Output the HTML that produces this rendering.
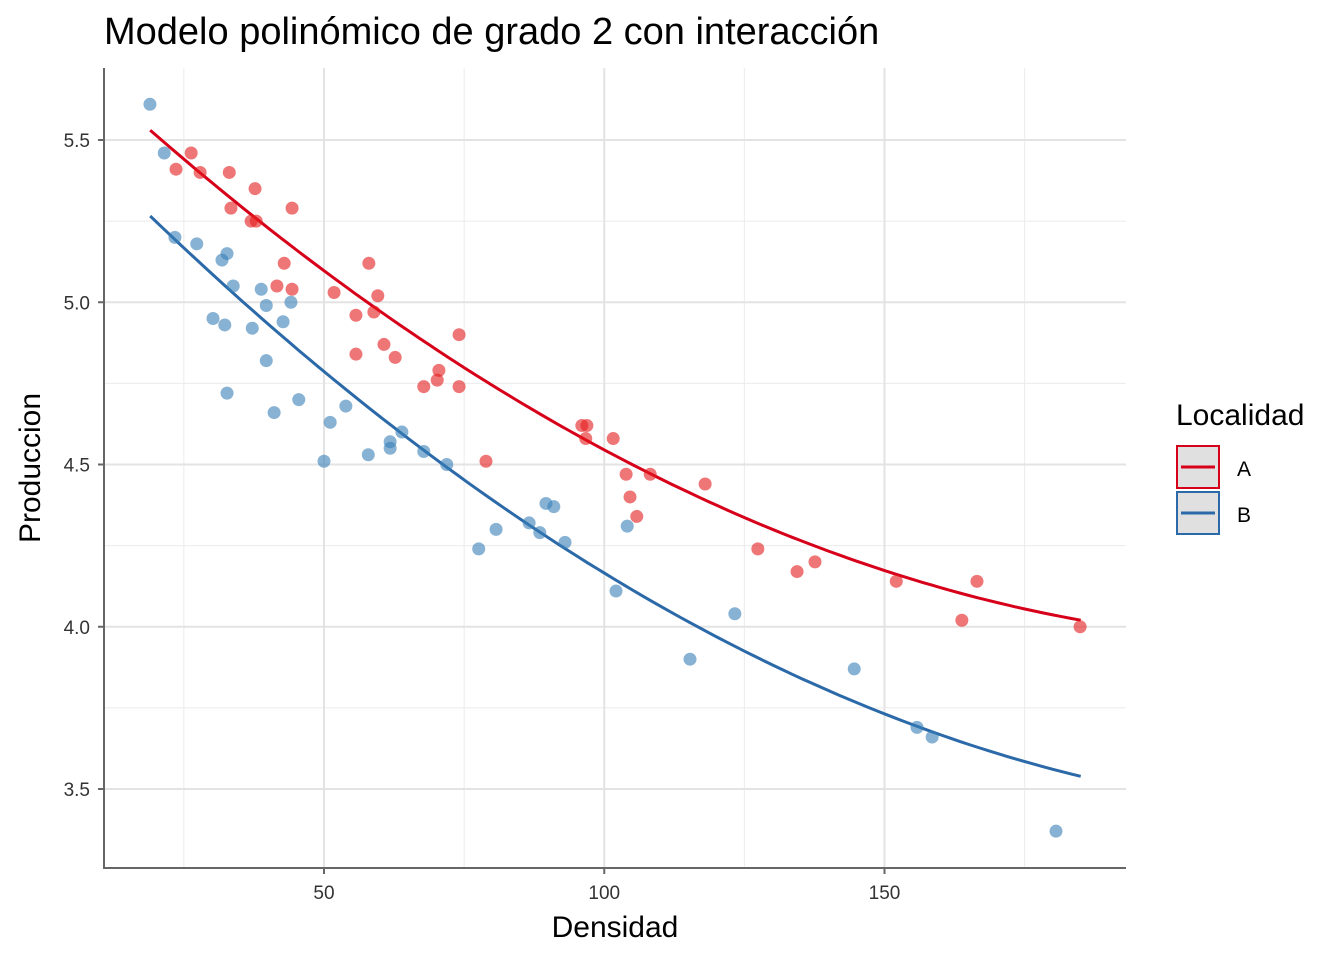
<!DOCTYPE html>
<html><head><meta charset="utf-8"><style>
body{margin:0;background:#fff;}
svg text{font-family:"Liberation Sans",Arial,sans-serif;}
</style></head><body>
<svg id="chart" width="1344" height="960" xmlns="http://www.w3.org/2000/svg">
<rect width="1344" height="960" fill="#fff"/>
<g id="grid"></g><g id="lines"></g><g id="points"></g><g id="axes"></g>
<text x="104" y="44" font-size="38" fill="#000">Modelo polinómico de grado 2 con interacción</text>
<text x="615" y="937" font-size="30" text-anchor="middle">Densidad</text>
<text transform="translate(40,468) rotate(-90)" font-size="30" text-anchor="middle">Produccion</text>
<g>
<text x="1176" y="425" font-size="30">Localidad</text>
<g>
<rect x="1177" y="446" width="42" height="42" fill="#e0e0e0" stroke="#d7001a" stroke-width="2"/>
<line x1="1181" y1="467" x2="1215" y2="467" stroke="#d7001a" stroke-width="3"/>
<text x="1237" y="476" font-size="21">A</text></g>
<g>
<rect x="1177" y="492" width="42" height="42" fill="#e0e0e0" stroke="#2b69a8" stroke-width="2"/>
<line x1="1181" y1="513" x2="1215" y2="513" stroke="#2b69a8" stroke-width="3"/>
<text x="1237" y="522" font-size="21">B</text></g>
</g>
</svg>
<script>
const xA=[23.6,26.3,27.9,33.1,33.4,37.7,37.0,37.9,44.3,42.9,41.6,44.3,51.8,58.0,59.6,58.9,55.7,55.7,60.7,62.7,74.1,70.5,70.2,67.8,74.1,78.9,96.0,96.9,96.7,101.6,103.9,108.2,104.6,105.8,118.0,127.4,134.4,137.6,152.1,166.5,163.8,184.9];
const yA=[5.41,5.46,5.40,5.40,5.29,5.35,5.25,5.25,5.29,5.12,5.05,5.04,5.03,5.12,5.02,4.97,4.96,4.84,4.87,4.83,4.90,4.79,4.76,4.74,4.74,4.51,4.62,4.62,4.58,4.58,4.47,4.47,4.40,4.34,4.44,4.24,4.17,4.20,4.14,4.14,4.02,4.00];
const xB=[18.95,21.5,23.4,27.3,32.7,31.8,33.8,38.8,39.7,44.1,42.7,30.2,32.3,37.2,39.7,32.7,41.1,45.5,53.9,51.1,50.0,57.9,61.8,61.8,63.9,67.8,71.9,77.6,80.7,86.6,88.5,89.6,91.0,93.0,104.1,102.1,123.3,115.3,144.6,155.8,158.5,180.6];
const yB=[5.61,5.46,5.20,5.18,5.15,5.13,5.05,5.04,4.99,5.00,4.94,4.95,4.93,4.92,4.82,4.72,4.66,4.70,4.68,4.63,4.51,4.53,4.57,4.55,4.60,4.54,4.50,4.24,4.30,4.32,4.29,4.38,4.37,4.26,4.31,4.11,4.04,3.90,3.87,3.69,3.66,3.37];
const coefA=[5.8296,-0.01645,3.605e-5];
const coefB=[5.595,-0.01804,3.744e-5];
const fitRange=[19,185];
const xTicks=[50,100,150];
const xMinor=[25,75,125,175];
const yTicks=[3.5,4.0,4.5,5.0,5.5];
const yMinor=[3.75,4.25,4.75,5.25];
const NS="http://www.w3.org/2000/svg";
const X=v=>43.75+v*5.605;
const Y=v=>140+(5.5-v)*324.5;
const L=104,R=1126,T=68,B=868;
function mk(p,t,a){const e=document.createElementNS(NS,t);for(const k in a)e.setAttribute(k,a[k]);p.appendChild(e);return e;}
const g=document.getElementById('grid'),ln=document.getElementById('lines'),pt=document.getElementById('points'),ax=document.getElementById('axes');
xMinor.forEach(v=>{const e=mk(g,'line',{x1:X(v),x2:X(v),y1:T,y2:B,stroke:'#ebebeb','stroke-width':1});

});
yMinor.forEach(v=>{const e=mk(g,'line',{x1:L,x2:R,y1:Y(v),y2:Y(v),stroke:'#ebebeb','stroke-width':1});

});
xTicks.forEach(v=>{const e=mk(g,'line',{x1:X(v),x2:X(v),y1:T,y2:B,stroke:'#e3e3e3','stroke-width':2});


mk(ax,'line',{x1:X(v),x2:X(v),y1:B,y2:B+6,stroke:'#666','stroke-width':2});
const t=mk(ax,'text',{x:X(v),y:B+31,'font-size':19,'text-anchor':'middle',fill:'#333'});t.textContent=v;

});
yTicks.forEach(v=>{const e=mk(g,'line',{x1:L,x2:R,y1:Y(v),y2:Y(v),stroke:'#e3e3e3','stroke-width':2});


mk(ax,'line',{x1:L-6,x2:L,y1:Y(v),y2:Y(v),stroke:'#666','stroke-width':2});
const t=mk(ax,'text',{x:L-14,y:Y(v)+7,'font-size':19,'text-anchor':'end',fill:'#333'});t.textContent=v.toFixed(1);

});
const a1=mk(ax,'line',{x1:L,x2:L,y1:T,y2:B+1,stroke:'#666','stroke-width':2});


const a2=mk(ax,'line',{x1:L-1,x2:R,y1:B,y2:B,stroke:'#666','stroke-width':2});


function curve(c,col,name){let d='';for(let i=0;i<=100;i++){const x=fitRange[0]+(fitRange[1]-fitRange[0])*i/100;const y=c[0]+c[1]*x+c[2]*x*x;d+=(i?'L':'M')+X(x).toFixed(1)+','+Y(y).toFixed(1);}
const e=mk(ln,'path',{d:d,fill:'none',stroke:col,'stroke-width':3});

}
xA.forEach((x,i)=>{const e=mk(pt,'circle',{cx:X(x),cy:Y(yA[i]),r:6.5,fill:'#e41a1c','fill-opacity':0.6});

});
xB.forEach((x,i)=>{const e=mk(pt,'circle',{cx:X(x),cy:Y(yB[i]),r:6.5,fill:'#377eb8','fill-opacity':0.6});

});
curve(coefA,'#d7001a','fit-line-a');
curve(coefB,'#2b69a8','fit-line-b');
</script>
</body></html>
